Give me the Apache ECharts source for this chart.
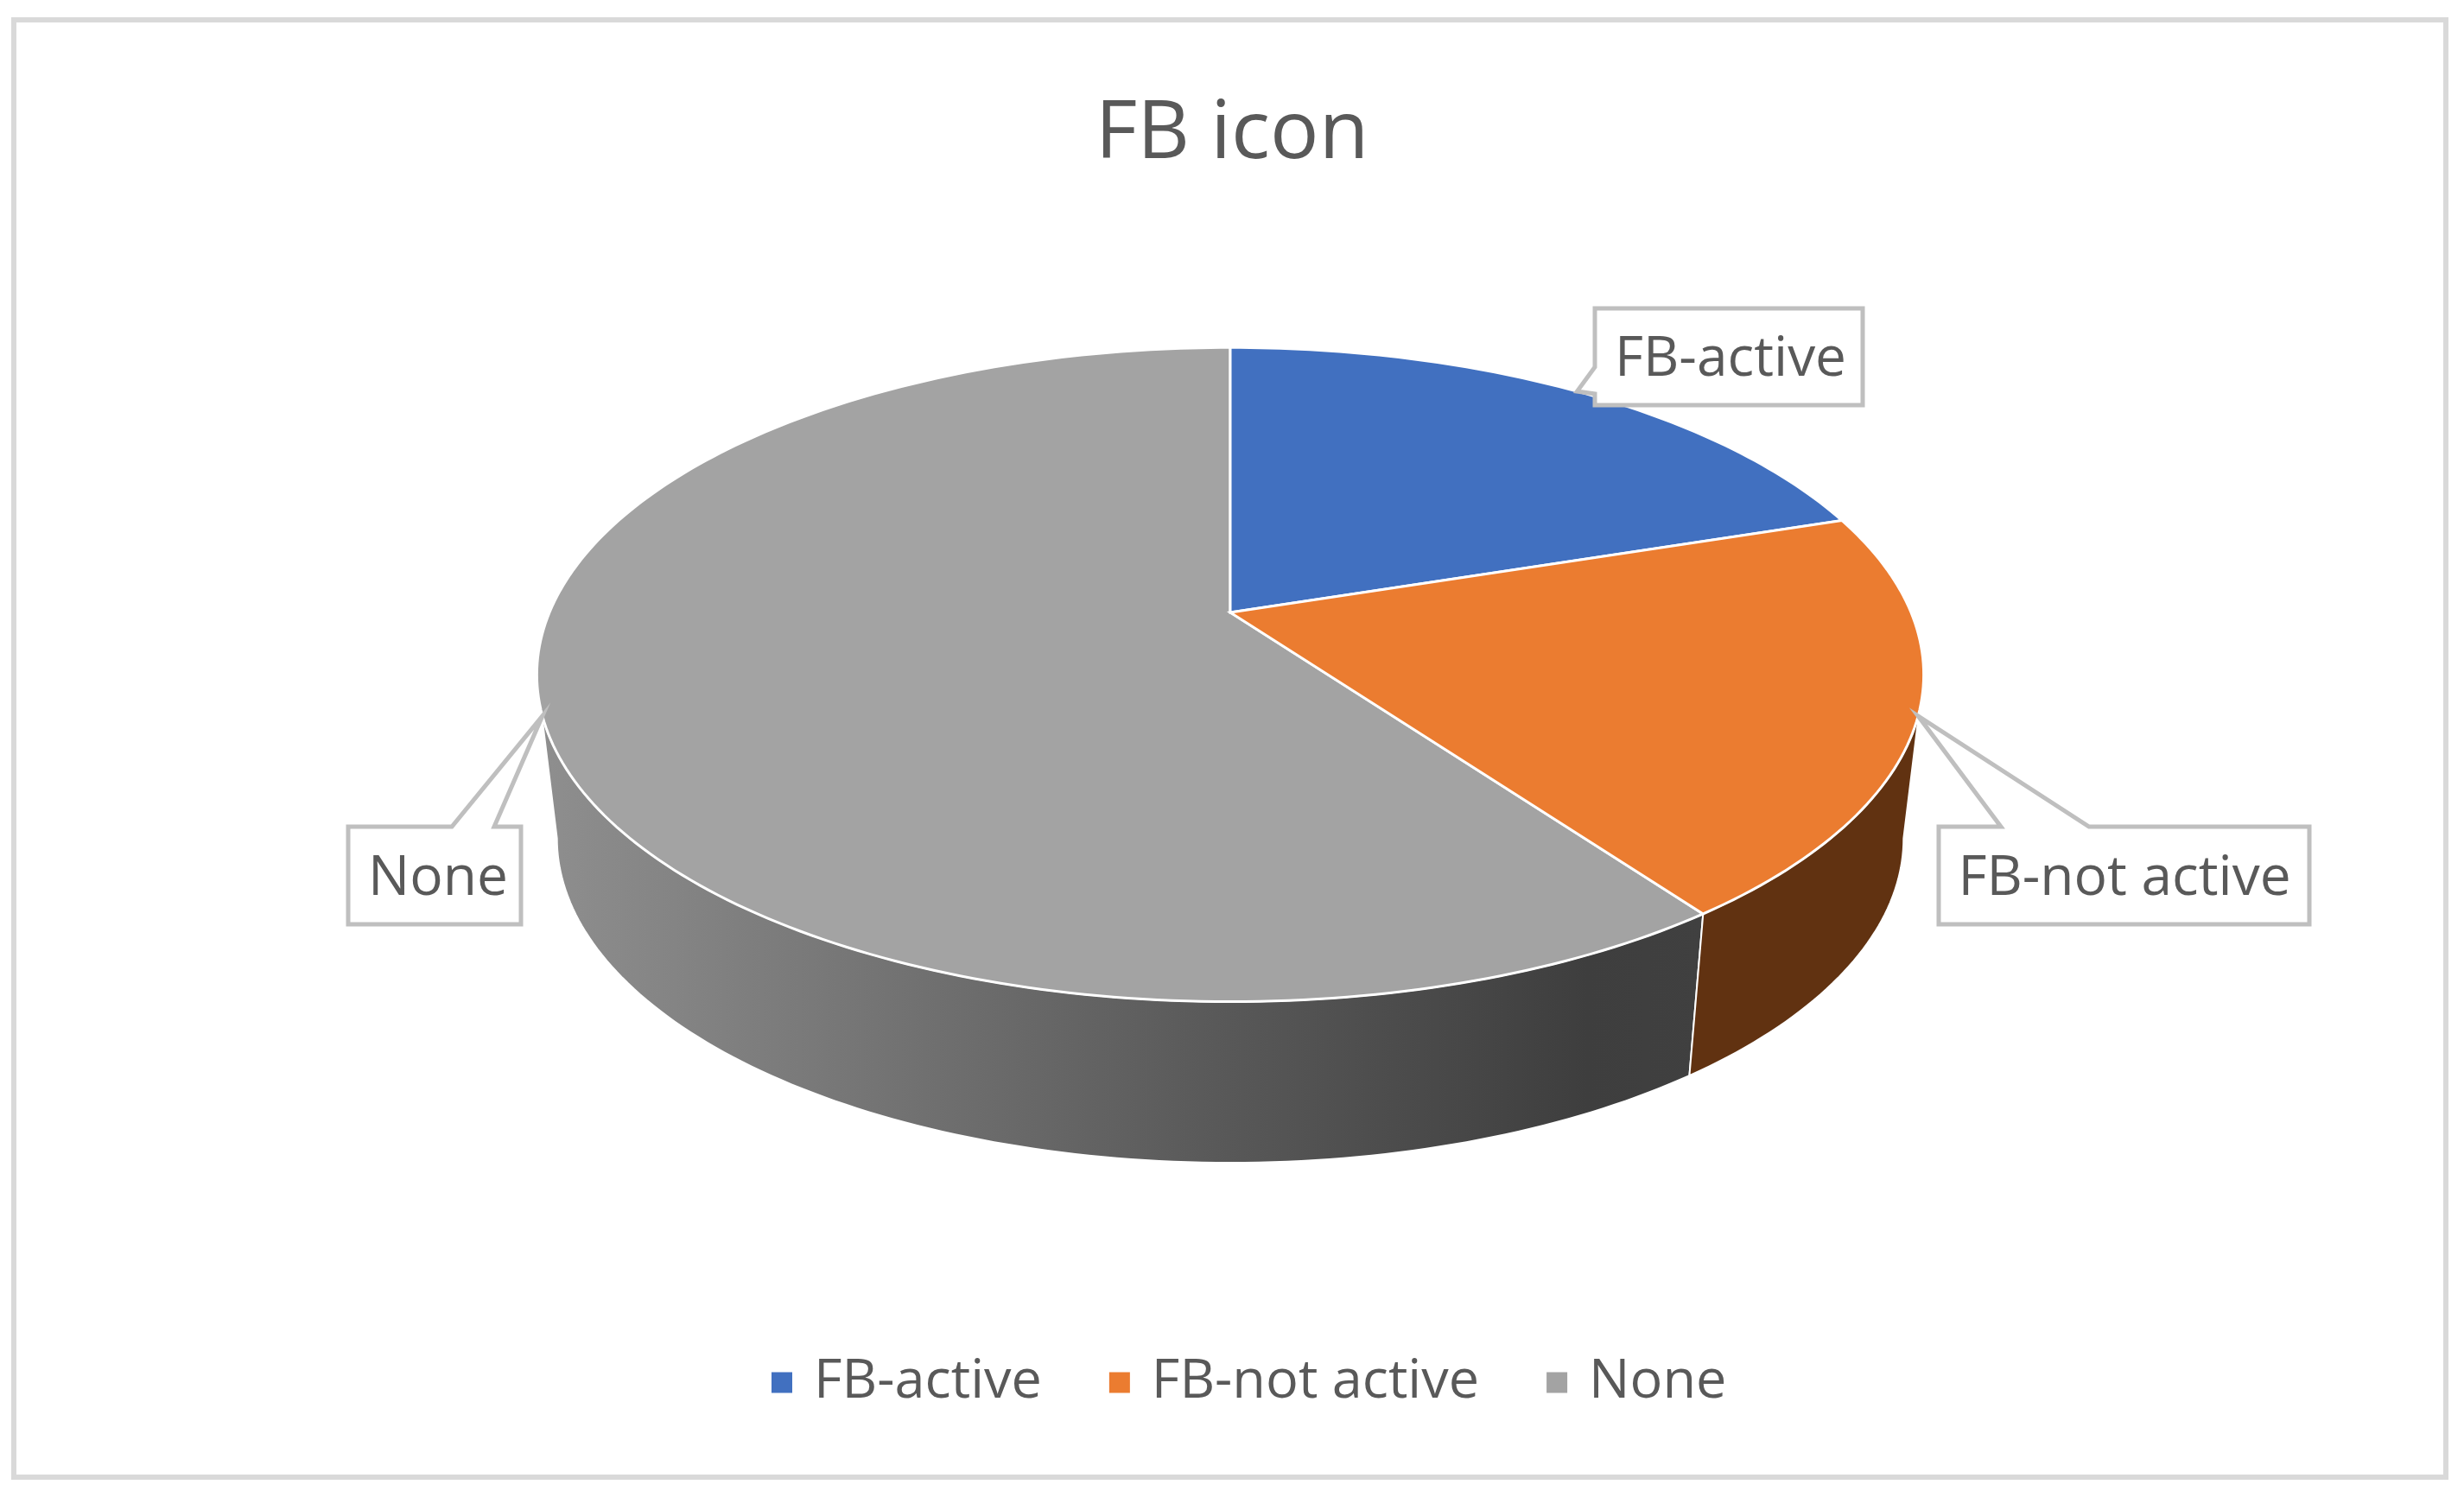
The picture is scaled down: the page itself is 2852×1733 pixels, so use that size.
<!DOCTYPE html>
<html>
<head>
<meta charset="utf-8">
<title>FB icon</title>
<script src="https://cdn.jsdelivr.net/npm/echarts@6/dist/echarts.min.js"></script>
<style>
  html, body { margin: 0; padding: 0; background: #fff; }
  #chart { width: 2852px; height: 1733px; }
</style>
</head>
<body>
<div id="chart"></div>
<script>
const categories = ['FB-active', 'FB-not active', 'None']
const shares = [20, 20, 60]

const topColors = ['#4170c0', '#eb7c30', '#a3a3a3']
const textColor = '#595959'
const font = '"Open Sans", sans-serif'

// perspective ellipse, k is the foreshortening between back and front
const pie = { cx: 1424, cy: 709, rx: 788, ry: 365, k: 0.19 }
// lower rim of the side wall is a bit narrower than the top face
const lowerRim = { sx: 0.971, sy: 0.992, drop: 190 }
const upperRim = { sx: 1, sy: 1, drop: 0 }
const visibleSide = [101, 259]

// callout boxes, gap is the part of the box edge the leader wedge goes through
const callouts = [
  { box: [1846, 357, 2156, 469], wedge: 'left', gap: [425, 456], textX: 2003 },
  { box: [2244, 957, 2673, 1070], wedge: 'top', gap: [2316, 2418], textX: 2459 },
  { box: [403, 957, 603, 1070], wedge: 'top', gap: [523, 572], textX: 507 }
]

const total = shares.reduce((a, b) => a + b, 0)
const startAngles = shares.map((v, i) => shares.slice(0, i).reduce((a, b) => a + b, 0) / total * 360)

function rim(deg, r) {
  const t = deg * Math.PI / 180
  const x = Math.sin(t)
  const y = -Math.cos(t)
  const d = 1 - pie.k * y
  return [pie.cx + r.sx * pie.rx * x / d, pie.cy + r.drop + r.sy * pie.ry * y / d]
}

function arc(from, to, r) {
  const pts = []
  const n = Math.max(1, Math.ceil(to - from))
  for (let i = 0; i <= n; i++) {
    pts.push(rim(from + (to - from) * i / n, r))
  }
  return pts
}

function sideFill(i) {
  if (i === 1) return '#613211'
  return {
    type: 'linear', x: 0, y: 0, x2: 1, y2: 0,
    colorStops: [
      { offset: 0, color: '#8f8f8f' },
      { offset: 0.57, color: '#5a5a5a' },
      { offset: 0.9, color: '#3e3e3e' },
      { offset: 1, color: '#404040' }
    ]
  }
}

function calloutPath(c, tip) {
  const [x1, y1, x2, y2] = c.box
  if (c.wedge === 'left') {
    return [[x1, y1], [x2, y1], [x2, y2], [x1, y2], [x1, c.gap[1]], tip, [x1, c.gap[0]]]
  }
  return [[x1, y1], [c.gap[0], y1], tip, [c.gap[1], y1], [x2, y1], [x2, y2], [x1, y2]]
}

function renderSlice(i) {
  return function (params, api) {
    const from = startAngles[i]
    const to = from + api.value(0) / total * 360
    const children = []

    const a = Math.max(from, visibleSide[0])
    const b = Math.min(to, visibleSide[1])
    if (b > a) {
      children.push({
        type: 'polygon',
        shape: { points: arc(a, b, upperRim).concat(arc(a, b, lowerRim).reverse()) },
        style: { fill: sideFill(i), stroke: '#fff', lineWidth: 2 }
      })
    }

    children.push({
      type: 'polygon',
      shape: { points: [[pie.cx, pie.cy]].concat(arc(from, to, upperRim)) },
      style: { fill: topColors[i], stroke: '#fff', lineWidth: 3 }
    })

    const c = callouts[i]
    children.push({
      type: 'polygon',
      shape: { points: calloutPath(c, rim((from + to) / 2, upperRim)) },
      style: { fill: '#fff', stroke: '#bfbfbf', lineWidth: 5 }
    })
    children.push({
      type: 'text',
      style: {
        text: categories[i], x: c.textX, y: (c.box[1] + c.box[3]) / 2 + 4,
        fill: textColor, font: '64px ' + font, align: 'center', verticalAlign: 'middle'
      }
    })
    return { type: 'group', children: children }
  }
}

const chart = echarts.init(document.getElementById('chart'))
chart.setOption({
  animation: false,
  backgroundColor: '#fff',
  title: {
    text: 'FB icon',
    left: 'center',
    top: 104,
    textStyle: { fontFamily: font, fontSize: 94, fontWeight: 'normal', color: textColor }
  },
  legend: {
    left: 888,
    top: 1564,
    icon: 'rect',
    itemWidth: 24,
    itemHeight: 24,
    itemGap: 78,
    data: categories,
    textStyle: { fontFamily: font, fontSize: 63, color: textColor, padding: [0, 0, 0, 20] }
  },
  graphic: [{
    type: 'rect',
    silent: true,
    shape: { x: 16, y: 23, width: 2815, height: 1687 },
    style: { fill: 'transparent', stroke: '#d9d9d9', lineWidth: 6 }
  }],
  series: categories.map((name, i) => ({
    name: name,
    type: 'custom',
    coordinateSystem: 'none',
    z: i === 2 ? 2 : 3,
    silent: true,
    itemStyle: { color: topColors[i] },
    data: [[shares[i]]],
    renderItem: renderSlice(i)
  }))
})
</script>
</body>
</html>
